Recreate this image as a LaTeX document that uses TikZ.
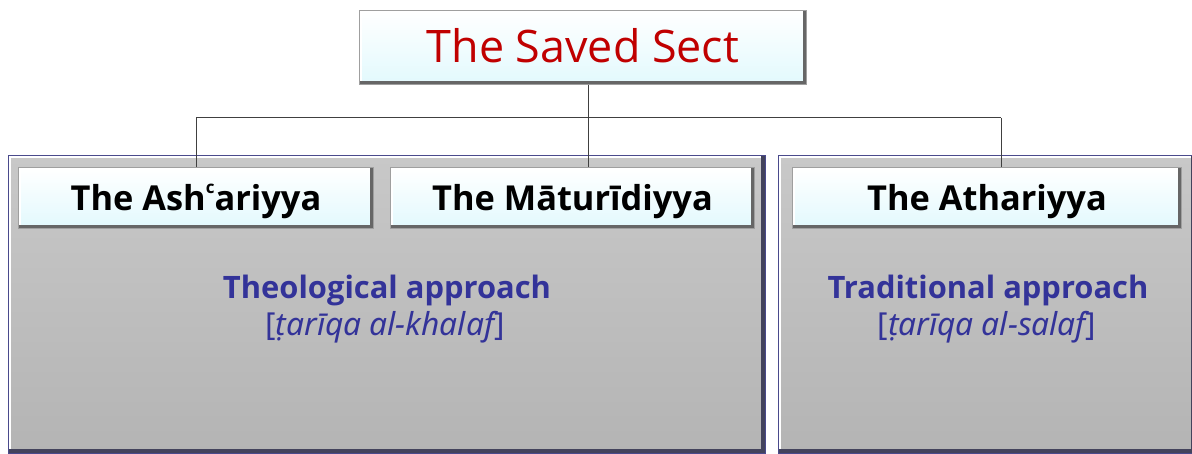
\documentclass[tikz,border=0pt]{standalone}
\usepackage{fontspec}
\setmainfont{Open Sans}
\newfontfamily\translit{Noto Sans}
\usetikzlibrary{calc}

\definecolor{sectred}{HTML}{C00000}
\definecolor{approachblue}{HTML}{333399}
\definecolor{frameblue}{HTML}{4A4A8C}
\definecolor{paneltop}{HTML}{C8C8C8}
\definecolor{panelbottom}{HTML}{B4B4B4}
\definecolor{labelcyan}{HTML}{E2F9FD}
\definecolor{linkgray}{HTML}{404040}

\tikzset{
  panel/.style={rectangle, inner sep=0pt, draw=frameblue, line width=1.5bp,
    top color=paneltop, bottom color=panelbottom},
  labelbox/.style={rectangle, inner sep=0pt, draw=gray!75, line width=1.2bp,
    top color=white, bottom color=labelcyan},
  schoolbox/.style={labelbox, font=\bfseries\fontsize{34.5}{40}\selectfont,
    text height=30bp, text depth=4bp},
  titlebox/.style={labelbox, text=sectred, font=\fontsize{45}{50}\selectfont,
    text height=33bp, text depth=2bp},
  approach/.style={anchor=base, text=approachblue, font=\bfseries\fontsize{31}{36}\selectfont},
  method/.style={anchor=base, text=approachblue, font=\translit\fontsize{31.8}{36}\selectfont},
  link/.style={draw=linkgray, line width=1bp}
}

% transliterated term in italics between upright brackets
\newcommand\termbr[1]{[{\itshape #1}]}

% raised bevel: light top-left edge, dark bottom-right edge
\newcommand\raisedge[3]{%
  \draw[white, line width=1.6bp, line cap=rect]
    ([xshift=1.8bp,yshift=1.8bp]#1.south west) -- ([xshift=1.8bp,yshift=-1.8bp]#1.north west)
    -- ([xshift=-1.8bp,yshift=-1.8bp]#1.north east);
  \draw[#2, line width=#3, line cap=butt]
    ([xshift=-#3/2-0.6bp,yshift=-1bp]#1.north east) -- ([xshift=-#3/2-0.6bp,yshift=#3/2+0.6bp]#1.south east)
    -- ([xshift=1bp,yshift=#3/2+0.6bp]#1.south west);
}

\begin{document}
\begin{tikzpicture}[x=1bp, y=-1bp]
  \useasboundingbox (0,0) rectangle (1192,454);

  % two approach panels
  \node[panel, minimum width=756bp, minimum height=297bp] (left) at (387,304.5) {};
  \node[panel, minimum width=416bp, minimum height=297bp] (right) at (987,304.5) {};
  \raisedge{left}{black!45!frameblue!70!gray}{4bp}
  \raisedge{right}{black!45!frameblue!70!gray}{4bp}

  % title
  \node[titlebox, minimum width=446bp, minimum height=73bp] (top) at (583,47.5) {The Saved Sect};
  \raisedge{top}{gray!80!black}{3bp}

  % schools
  \node[schoolbox, minimum width=354bp, minimum height=60bp] (ash) at (196,198)
    {The Ash\raisebox{17bp}{\fontsize{17}{17}\selectfont c}ariyya};
  \node[schoolbox, minimum width=363bp, minimum height=60bp] (mat) at (572.5,198) {The Māturīdiyya};
  \node[schoolbox, minimum width=388bp, minimum height=60bp] (ath) at (987,198) {The Athariyya};
  \raisedge{ash}{gray!80!black}{3bp}
  \raisedge{mat}{gray!80!black}{3bp}
  \raisedge{ath}{gray!80!black}{3bp}

  % tree connectors
  \coordinate (hub) at (588,118);
  \coordinate (hubleft) at (196,118);
  \coordinate (hubright) at (1001,118);
  \draw[link] (top.south -| hub) -- (mat.north -| hub);
  \draw[link] (hubleft) -- (hubright);
  \draw[link] (hubleft) -- (ash.north);
  \draw[link] (hubright) -- (ath.north -| hubright);

  % approach captions
  \node[approach] (theo) at (387,299) {Theological approach};
  \node[method] (khalaf) at (385,336) {\termbr{ṭarīqa al-khalaf}};
  \node[approach] (trad) at (988,299) {Traditional approach};
  \node[method] (salaf) at (987,336) {\termbr{ṭarīqa al-salaf}};
\end{tikzpicture}
\end{document}
